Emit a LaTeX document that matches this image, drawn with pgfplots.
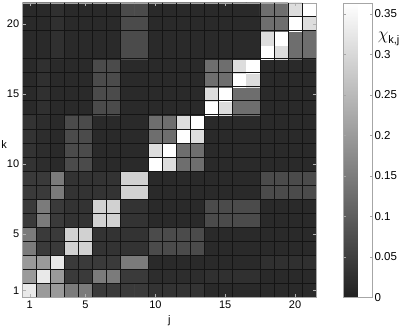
\documentclass[border=0pt]{standalone}
\usepackage{fontspec}
\setmainfont{Liberation Sans}
\usepackage{pgfplots}
\pgfplotsset{compat=1.18}

\begin{document}
\begin{tikzpicture}
\path[use as bounding box] (-22.7pt,-29.7pt) rectangle (392.3pt,297.3pt);
\begin{axis}[
width=293.3pt,height=294.6pt,scale only axis,
xmin=0.5,xmax=21.5,ymin=0.5,ymax=21.5,enlargelimits=false,
xtick={1,5,10,15,20},ytick={1,5,10,15,20},
tick align=inside,major tick length=3pt,tick style={gray!60},
axis line style={gray!70},
/pgf/number format/assume math mode=true,
tick label style={font=\fontsize{11}{12}\selectfont},
label style={font=\fontsize{11}{12}\selectfont},
xlabel={j},ylabel={k},
ylabel style={rotate=-90,at={(rel axis cs:0,0.517)},anchor=center,xshift=-18.5pt},
extra x ticks={1.5,2.5,3.5,4.5,5.5,6.5,7.5,9.5,10.5,11.5,12.5,13.5,14.5,15.5,17.5,18.5,19.5,20.5},
extra y ticks={1.5,2.5,3.5,4.5,5.5,6.5,7.5,8.5,9.5,10.5,11.5,12.5,13.5,14.5,15.5,16.5,17.5,19.5,20.5},
extra x tick labels={},extra y tick labels={},
extra tick style={grid=major,major grid style={draw=black!92,line width=0.9pt},major tick length=0pt},
axis on top,clip=false,
colormap={grayish}{rgb255=(32,32,32) rgb255=(255,255,255)},
point meta min=0,point meta max=0.364,
colorbar,
colorbar style={
  at={(parent axis.north east)},anchor=north west,xshift=18.7pt,
  width=29.3pt,
  ytick={0,0.05,0.1,0.15,0.2,0.25,0.3,0.35},
  ytick pos=both,yticklabel pos=right,
  tick align=inside,major tick length=3pt,tick style={gray!70},
  axis line style={gray!70},
  /pgf/number format/fixed,/pgf/number format/precision=2,
  /pgf/number format/assume math mode=true,
  yticklabel style={font=\fontsize{11.5}{12}\selectfont,xshift=-1.5pt},
}
]
\addplot[matrix plot*,mesh/cols=21,point meta=explicit] coordinates {
(1,1)[0.326] (2,1)[0.198] (3,1)[0.198] (4,1)[0.147] (5,1)[0.147] (6,1)[0.042] (7,1)[0.042] (8,1)[0.042] (9,1)[0.042] (10,1)[0.031] (11,1)[0.031] (12,1)[0.031] (13,1)[0.031] (14,1)[0.016] (15,1)[0.016] (16,1)[0.016] (17,1)[0.016] (18,1)[0.016] (19,1)[0.016] (20,1)[0.016] (21,1)[0.016]

(1,2)[0.198] (2,2)[0.326] (3,2)[0.198] (4,2)[0.042] (5,2)[0.042] (6,2)[0.147] (7,2)[0.147] (8,2)[0.042] (9,2)[0.042] (10,2)[0.021] (11,2)[0.021] (12,2)[0.021] (13,2)[0.021] (14,2)[0.026] (15,2)[0.026] (16,2)[0.026] (17,2)[0.026] (18,2)[0.016] (19,2)[0.016] (20,2)[0.016] (21,2)[0.016]

(1,3)[0.198] (2,3)[0.198] (3,3)[0.326] (4,3)[0.042] (5,3)[0.042] (6,3)[0.042] (7,3)[0.042] (8,3)[0.147] (9,3)[0.147] (10,3)[0.016] (11,3)[0.016] (12,3)[0.016] (13,3)[0.016] (14,3)[0.016] (15,3)[0.016] (16,3)[0.016] (17,3)[0.016] (18,3)[0.026] (19,3)[0.026] (20,3)[0.026] (21,3)[0.026]

(1,4)[0.147] (2,4)[0.042] (3,4)[0.042] (4,4)[0.287] (5,4)[0.287] (6,4)[0.031] (7,4)[0.031] (8,4)[0.031] (9,4)[0.031] (10,4)[0.069] (11,4)[0.069] (12,4)[0.069] (13,4)[0.069] (14,4)[0.016] (15,4)[0.016] (16,4)[0.016] (17,4)[0.016] (18,4)[0.016] (19,4)[0.016] (20,4)[0.016] (21,4)[0.016]

(1,5)[0.147] (2,5)[0.042] (3,5)[0.042] (4,5)[0.287] (5,5)[0.287] (6,5)[0.031] (7,5)[0.031] (8,5)[0.031] (9,5)[0.031] (10,5)[0.069] (11,5)[0.069] (12,5)[0.069] (13,5)[0.069] (14,5)[0.016] (15,5)[0.016] (16,5)[0.016] (17,5)[0.016] (18,5)[0.016] (19,5)[0.016] (20,5)[0.016] (21,5)[0.016]

(1,6)[0.042] (2,6)[0.147] (3,6)[0.042] (4,6)[0.031] (5,6)[0.031] (6,6)[0.287] (7,6)[0.287] (8,6)[0.031] (9,6)[0.031] (10,6)[0.016] (11,6)[0.016] (12,6)[0.016] (13,6)[0.016] (14,6)[0.069] (15,6)[0.069] (16,6)[0.069] (17,6)[0.069] (18,6)[0.016] (19,6)[0.016] (20,6)[0.016] (21,6)[0.016]

(1,7)[0.042] (2,7)[0.147] (3,7)[0.042] (4,7)[0.031] (5,7)[0.031] (6,7)[0.287] (7,7)[0.287] (8,7)[0.031] (9,7)[0.031] (10,7)[0.016] (11,7)[0.016] (12,7)[0.016] (13,7)[0.016] (14,7)[0.069] (15,7)[0.069] (16,7)[0.069] (17,7)[0.069] (18,7)[0.016] (19,7)[0.016] (20,7)[0.016] (21,7)[0.016]

(1,8)[0.042] (2,8)[0.042] (3,8)[0.147] (4,8)[0.031] (5,8)[0.031] (6,8)[0.031] (7,8)[0.031] (8,8)[0.287] (9,8)[0.287] (10,8)[0.016] (11,8)[0.016] (12,8)[0.016] (13,8)[0.016] (14,8)[0.016] (15,8)[0.016] (16,8)[0.016] (17,8)[0.016] (18,8)[0.069] (19,8)[0.069] (20,8)[0.069] (21,8)[0.069]

(1,9)[0.042] (2,9)[0.042] (3,9)[0.147] (4,9)[0.031] (5,9)[0.031] (6,9)[0.031] (7,9)[0.031] (8,9)[0.287] (9,9)[0.287] (10,9)[0.016] (11,9)[0.016] (12,9)[0.016] (13,9)[0.016] (14,9)[0.016] (15,9)[0.016] (16,9)[0.016] (17,9)[0.016] (18,9)[0.069] (19,9)[0.069] (20,9)[0.069] (21,9)[0.069]

(1,10)[0.031] (2,10)[0.021] (3,10)[0.016] (4,10)[0.069] (5,10)[0.069] (6,10)[0.016] (7,10)[0.016] (8,10)[0.016] (9,10)[0.016] (10,10)[0.362] (11,10)[0.307] (12,10)[0.127] (13,10)[0.127] (14,10)[0.016] (15,10)[0.016] (16,10)[0.016] (17,10)[0.016] (18,10)[0.016] (19,10)[0.016] (20,10)[0.016] (21,10)[0.016]

(1,11)[0.031] (2,11)[0.021] (3,11)[0.016] (4,11)[0.069] (5,11)[0.069] (6,11)[0.016] (7,11)[0.016] (8,11)[0.016] (9,11)[0.016] (10,11)[0.307] (11,11)[0.362] (12,11)[0.127] (13,11)[0.127] (14,11)[0.016] (15,11)[0.016] (16,11)[0.016] (17,11)[0.016] (18,11)[0.016] (19,11)[0.016] (20,11)[0.016] (21,11)[0.016]

(1,12)[0.031] (2,12)[0.021] (3,12)[0.016] (4,12)[0.069] (5,12)[0.069] (6,12)[0.016] (7,12)[0.016] (8,12)[0.016] (9,12)[0.016] (10,12)[0.127] (11,12)[0.127] (12,12)[0.362] (13,12)[0.307] (14,12)[0.016] (15,12)[0.016] (16,12)[0.016] (17,12)[0.016] (18,12)[0.016] (19,12)[0.016] (20,12)[0.016] (21,12)[0.016]

(1,13)[0.031] (2,13)[0.021] (3,13)[0.016] (4,13)[0.069] (5,13)[0.069] (6,13)[0.016] (7,13)[0.016] (8,13)[0.016] (9,13)[0.016] (10,13)[0.127] (11,13)[0.127] (12,13)[0.307] (13,13)[0.362] (14,13)[0.016] (15,13)[0.016] (16,13)[0.016] (17,13)[0.016] (18,13)[0.016] (19,13)[0.016] (20,13)[0.016] (21,13)[0.016]

(1,14)[0.016] (2,14)[0.026] (3,14)[0.016] (4,14)[0.016] (5,14)[0.016] (6,14)[0.069] (7,14)[0.069] (8,14)[0.016] (9,14)[0.016] (10,14)[0.016] (11,14)[0.016] (12,14)[0.016] (13,14)[0.016] (14,14)[0.362] (15,14)[0.307] (16,14)[0.127] (17,14)[0.127] (18,14)[0.016] (19,14)[0.016] (20,14)[0.016] (21,14)[0.016]

(1,15)[0.016] (2,15)[0.026] (3,15)[0.016] (4,15)[0.016] (5,15)[0.016] (6,15)[0.069] (7,15)[0.069] (8,15)[0.016] (9,15)[0.016] (10,15)[0.016] (11,15)[0.016] (12,15)[0.016] (13,15)[0.016] (14,15)[0.307] (15,15)[0.362] (16,15)[0.127] (17,15)[0.127] (18,15)[0.016] (19,15)[0.016] (20,15)[0.016] (21,15)[0.016]

(1,16)[0.016] (2,16)[0.026] (3,16)[0.016] (4,16)[0.016] (5,16)[0.016] (6,16)[0.069] (7,16)[0.069] (8,16)[0.016] (9,16)[0.016] (10,16)[0.016] (11,16)[0.016] (12,16)[0.016] (13,16)[0.016] (14,16)[0.127] (15,16)[0.127] (16,16)[0.362] (17,16)[0.307] (18,16)[0.016] (19,16)[0.016] (20,16)[0.016] (21,16)[0.016]

(1,17)[0.016] (2,17)[0.026] (3,17)[0.016] (4,17)[0.016] (5,17)[0.016] (6,17)[0.069] (7,17)[0.069] (8,17)[0.016] (9,17)[0.016] (10,17)[0.016] (11,17)[0.016] (12,17)[0.016] (13,17)[0.016] (14,17)[0.127] (15,17)[0.127] (16,17)[0.307] (17,17)[0.362] (18,17)[0.016] (19,17)[0.016] (20,17)[0.016] (21,17)[0.016]

(1,18)[0.016] (2,18)[0.016] (3,18)[0.026] (4,18)[0.016] (5,18)[0.016] (6,18)[0.016] (7,18)[0.016] (8,18)[0.069] (9,18)[0.069] (10,18)[0.016] (11,18)[0.016] (12,18)[0.016] (13,18)[0.016] (14,18)[0.016] (15,18)[0.016] (16,18)[0.016] (17,18)[0.016] (18,18)[0.362] (19,18)[0.307] (20,18)[0.127] (21,18)[0.127]

(1,19)[0.016] (2,19)[0.016] (3,19)[0.026] (4,19)[0.016] (5,19)[0.016] (6,19)[0.016] (7,19)[0.016] (8,19)[0.069] (9,19)[0.069] (10,19)[0.016] (11,19)[0.016] (12,19)[0.016] (13,19)[0.016] (14,19)[0.016] (15,19)[0.016] (16,19)[0.016] (17,19)[0.016] (18,19)[0.307] (19,19)[0.362] (20,19)[0.127] (21,19)[0.127]

(1,20)[0.016] (2,20)[0.016] (3,20)[0.026] (4,20)[0.016] (5,20)[0.016] (6,20)[0.016] (7,20)[0.016] (8,20)[0.069] (9,20)[0.069] (10,20)[0.016] (11,20)[0.016] (12,20)[0.016] (13,20)[0.016] (14,20)[0.016] (15,20)[0.016] (16,20)[0.016] (17,20)[0.016] (18,20)[0.127] (19,20)[0.127] (20,20)[0.362] (21,20)[0.307]

(1,21)[0.016] (2,21)[0.016] (3,21)[0.026] (4,21)[0.016] (5,21)[0.016] (6,21)[0.016] (7,21)[0.016] (8,21)[0.069] (9,21)[0.069] (10,21)[0.016] (11,21)[0.016] (12,21)[0.016] (13,21)[0.016] (14,21)[0.016] (15,21)[0.016] (16,21)[0.016] (17,21)[0.016] (18,21)[0.127] (19,21)[0.127] (20,21)[0.307] (21,21)[0.362]
};
\node[anchor=west,inner sep=0pt] at (rel axis cs:1.21,0.877)
  {\fontsize{16}{16}\selectfont$\chi$\raisebox{-0.45ex}{\fontsize{11}{11}\selectfont k,j}};
\end{axis}
\end{tikzpicture}
\end{document}
